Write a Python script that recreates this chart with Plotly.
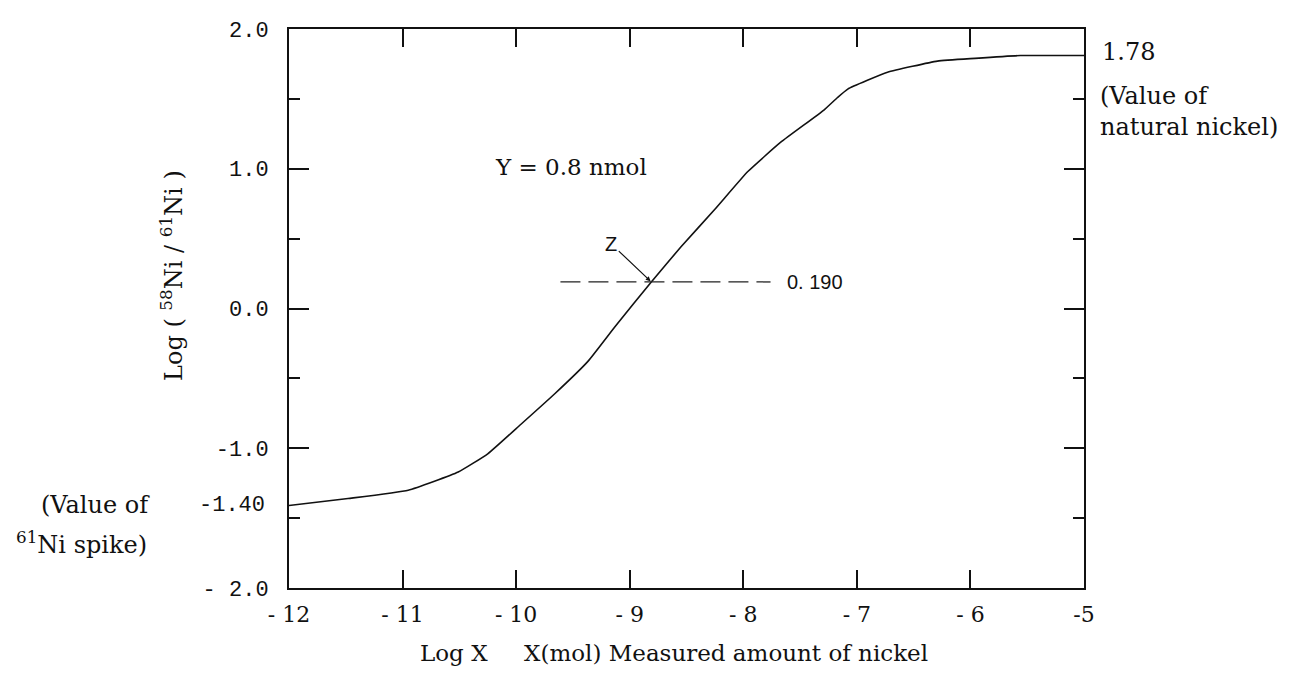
import plotly.graph_objects as go

# curve data
log_x = [-12.0, -11.48, -10.95, -10.51, -10.25, -9.96, -9.66, -9.37, -9.13, -8.81,
         -8.55, -8.25, -7.96, -7.67, -7.29, -7.17, -7.08, -6.73, -6.29, -5.96, -5.56, -5.0]
log_ratio = [-1.41, -1.36, -1.30, -1.17, -1.04, -0.83, -0.61, -0.38, -0.13, 0.19,
             0.44, 0.71, 0.98, 1.19, 1.42, 1.51, 1.57, 1.69, 1.77, 1.79, 1.81, 1.81]

x_ticks = [-12, -11, -10, -9, -8, -7, -6, -5]
x_tick_text = ["- 12", "- 11", "- 10", "- 9", "- 8", "- 7", "- 6", "-5"]
y_ticks = [-2, -1, 0, 1, 2]
y_tick_text = ["- 2.0", "-1.0", "0.0", "1.0", "2.0"]

z_x, z_y = -8.81, 0.19
dash_x = [-9.61, -7.76]
natural_value = 1.78
spike_value = -1.40

SERIF = "DejaVu Serif"
MONO = "Liberation Mono"

# plot area in pixels (for placing paper-referenced texts)
L, R, T, B = 281, 1076, 21, 580
def px(x):
    return (x - L) / (R - L)
def py(y):
    return (B - y) / (B - T)

fig = go.Figure()
fig.add_trace(go.Scatter(x=log_x, y=log_ratio, mode="lines",
                         line=dict(color="#111", width=1.6, shape="spline", smoothing=0.4),
                         hoverinfo="skip", showlegend=False))

fig.add_shape(type="line", x0=dash_x[0], x1=dash_x[1], y0=z_y, y1=z_y,
              line=dict(color="#222", width=1.3, dash="20px,8px"))

ann = [
    dict(x=-7.63, y=z_y, text="0. 190", xanchor="left", yanchor="middle", showarrow=False,
         font=dict(family="Liberation Sans", size=20, color="#111")),
    dict(x=z_x, y=z_y, ax=-40, ay=-38, text="Z", showarrow=True, arrowhead=2, arrowsize=0.8,
         arrowwidth=1.2, arrowcolor="#111", standoff=1,
         font=dict(family="Liberation Sans", size=20, color="#111")),
    dict(x=-10.2, y=1.01, text="Y = 0.8 nmol", xanchor="left", yanchor="middle", showarrow=False,
         font=dict(family=SERIF, size=23, color="#111")),
    dict(x=px(1092), xref="paper", y=py(44), yref="paper", text=f"{natural_value:.2f}",
         xanchor="left", yanchor="middle", showarrow=False,
         font=dict(family=SERIF, size=24, color="#111")),
    dict(x=px(1090), xref="paper", y=py(104), yref="paper", text="(Value of<br>natural nickel)",
         xanchor="left", yanchor="middle", align="left", showarrow=False,
         font=dict(family=SERIF, size=24, color="#111")),
    dict(x=px(259), xref="paper", y=py(497), yref="paper", text=f"{spike_value:.2f}",
         xanchor="right", yanchor="middle", showarrow=False,
         font=dict(family=MONO, size=22, color="#111")),
    dict(x=px(144), xref="paper", y=py(497), yref="paper", text="(Value of", xanchor="right",
         yanchor="middle", showarrow=False, font=dict(family=SERIF, size=24, color="#111")),
    dict(x=px(141), xref="paper", y=py(535), yref="paper", text="<sup>61</sup>Ni spike)",
         xanchor="right", yanchor="middle", showarrow=False,
         font=dict(family=SERIF, size=24, color="#111")),
    dict(x=px(164), xref="paper", y=py(268), yref="paper",
         text="Log ( <sup>58</sup>Ni / <sup>61</sup>Ni )", xanchor="center", yanchor="middle",
         textangle=-90, showarrow=False, font=dict(family=SERIF, size=24, color="#111")),
    dict(x=px(666), xref="paper", y=py(645), yref="paper",
         text="Log X&nbsp;&nbsp;&nbsp;&nbsp; X(mol) Measured amount of nickel",
         showarrow=False, xanchor="center", yanchor="middle",
         font=dict(family=SERIF, size=23, color="#111")),
]

fig.update_layout(
    width=1297, height=674,
    margin=dict(l=L, r=1297 - R, t=T, b=674 - B),
    paper_bgcolor="white", plot_bgcolor="white",
    annotations=ann,
    xaxis=dict(range=[-12, -5], showgrid=False, zeroline=False,
               showline=True, linecolor="#111", linewidth=2, mirror="ticks",
               ticks="inside", ticklen=18, tickwidth=1.5, tickcolor="#111",
               tickvals=x_ticks, ticktext=x_tick_text, ticklabelstandoff=6,
               tickfont=dict(family=SERIF, size=22, color="#111")),
    yaxis=dict(range=[-2, 2], showgrid=False, zeroline=False,
               showline=True, linecolor="#111", linewidth=2, mirror="ticks",
               ticks="inside", ticklen=20, tickwidth=1.5, tickcolor="#111",
               tickvals=y_ticks, ticktext=y_tick_text, ticklabelstandoff=14,
               tickfont=dict(family=MONO, size=22, color="#111"),
               minor=dict(ticks="inside", ticklen=11, tickwidth=1.5, tickcolor="#111",
                          tickvals=[-1.5, -0.5, 0.5, 1.5])),
)

fig.write_html("out.html")
